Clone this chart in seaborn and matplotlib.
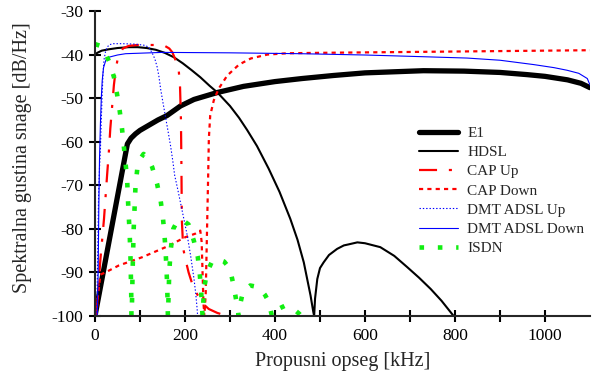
import numpy as np
import pandas as pd
import matplotlib
matplotlib.use("Agg")
import matplotlib.pyplot as plt
import seaborn as sns

# ---- data (kHz, dB/Hz) ----
e1_khz = [0, 72, 80, 90, 100, 120, 140, 160, 190, 220, 272, 330, 400, 460,
          530, 600, 730, 820, 900, 960, 1000, 1050, 1080, 1100]
e1_db = [-100, -60.5, -59.2, -58.2, -57.4, -56.2, -55.0, -54.0, -51.8, -50.3,
         -48.7, -47.3, -46.2, -45.5, -44.8, -44.2, -43.7, -43.8, -44.1, -44.6,
         -45.0, -45.8, -46.6, -47.6]

hdsl_khz = [0, 5, 15, 30, 50, 75, 95, 115, 135, 155, 175, 195, 215, 234, 255,
            272, 300, 320, 338, 360, 386, 410, 434, 450, 464, 479, 485, 487,
            489, 494, 500, 508, 520, 538, 553, 562, 583, 600, 634, 665, 694,
            720, 746, 770, 797]
hdsl_db = [-40.0, -39.6, -39.1, -38.8, -38.5, -38.3, -38.3, -38.5, -38.9, -39.6,
           -40.6, -42.0, -43.6, -45.2, -47.2, -48.7, -51.8, -54.5, -57.3, -61.0,
           -66.2, -71.5, -77.7, -82.5, -87.7, -95.3, -99.0, -100, -96.0, -91.5,
           -89.0, -87.7, -86.0, -84.6, -83.8, -83.6, -83.1, -83.3, -84.2, -86.2,
           -88.8, -91.2, -93.8, -96.5, -100]

cap_up_khz = [1, 3, 5, 12, 20, 27, 31, 34, 38, 42, 46, 50, 55, 62, 75, 94, 138,
              155, 165, 172, 180, 186, 189, 191, 192, 193, 196, 201, 208, 216,
              227, 240, 253, 272, 294]
cap_up_db = [-100, -99, -97, -87, -77.7, -67.5, -62, -57, -52, -47, -43.5,
             -41.2, -39.8, -38.6, -38.0, -37.8, -37.8, -38.0, -38.6, -39.5,
             -41.5, -43.5, -47.5, -55, -65, -78, -84.5, -87, -90, -92.6, -95,
             -97.2, -98.4, -99.3, -100]

cap_down_khz = [3, 6, 12, 23, 53, 105, 157, 201, 223, 234, 237, 239, 241, 243,
                246, 248, 250, 251.5, 253, 256, 264, 275, 294, 320, 346, 383,
                427, 500, 600, 700, 800, 900, 1000, 1100]
cap_down_db = [-100, -96, -90.5, -90, -88.4, -86.5, -84.2, -81.9, -81.1, -80.4,
               -83, -90, -97, -100, -95, -85, -75, -67.7, -59.3, -54, -50.5,
               -47.8, -44.8, -42.3, -40.9, -40.0, -39.7, -39.6, -39.5, -39.4,
               -39.3, -39.2, -39.1, -39.0]

dmt_up_khz = [4, 6, 8, 10, 12, 14, 16, 18, 20, 24, 30, 38, 60, 90, 112, 120,
              127, 133, 138, 142, 146, 151, 157, 163, 168, 173, 177, 184, 190,
              198, 205, 213, 220, 224, 227, 228]
dmt_up_db = [-100, -85, -72, -66, -62, -55, -49, -44, -41.2, -39, -37.9, -37.5,
             -37.5, -37.6, -37.9, -38.4, -39.6, -41, -42.8, -45, -48, -51,
             -54.5, -58, -61, -64.5, -67.7, -71, -74, -78, -81.5, -86.5, -91.5,
             -95, -98.4, -100]

dmt_down_khz = [5, 7, 8.5, 10, 12, 14, 16, 19, 24, 31, 50, 68, 150, 300, 457,
                600, 700, 827, 900, 975, 1020, 1049, 1075, 1094, 1100]
dmt_down_db = [-100, -90, -75, -64, -56, -50, -46, -43, -41.3, -40.6, -40.1,
               -39.8, -39.5, -39.6, -39.8, -40.1, -40.4, -40.8, -41.3, -42.3,
               -43.0, -43.6, -44.3, -45.5, -47.0]

isdn_khz = [0, 12, 22, 31, 42, 49, 55, 60, 64, 68, 71.5, 74, 77, 79, 80.5, 81,
            82, 83.5, 86, 90, 94, 100, 108, 118, 127, 138, 146, 151, 154.5, 157,
            159, 160.5, 161.5, 162, 163, 165, 168, 174, 183, 195, 208, 219.6,
            228.5, 233, 236, 238, 239, 240, 242, 249, 260, 271.5, 287, 300, 308,
            314, 318, 319, 321, 329, 345, 364, 378, 386, 392, 394, 400, 405,
            423, 440, 454, 458]
isdn_db = [-37.6, -38, -39.5, -41.5, -45.1, -49.1, -53, -57, -61, -65, -69, -75,
           -81, -87, -95, -100, -98, -90, -80, -70.2, -66.2, -64, -62.8, -63.8,
           -65.8, -69.7, -73.6, -77.5, -81.5, -85.4, -89.4, -93.4, -97.6, -100,
           -97, -90, -85, -80, -78.2, -78, -79, -82.7, -86.5, -90.6, -94.6,
           -98.2, -100, -98.5, -93.8, -90, -87.5, -86.9, -87.5, -89.2, -93,
           -96.5, -99, -100, -98, -94.4, -93, -93.4, -95.2, -96.7, -99.5, -100,
           -100, -98.5, -97.6, -98.3, -99.5, -100]

x_ticks = [0, 100, 200, 300, 400, 500, 600, 700, 800, 900, 1000]
x_tick_labels = ["0", "", "200", "", "400", "", "600", "", "800", "", "1000"]
y_ticks = [-100, -90, -80, -70, -60, -50, -40, -30]

sns.set_style("ticks")
plt.rcParams['font.family'] = ['Liberation Serif', 'DejaVu Serif']
plt.rcParams['lines.scale_dashes'] = False
plt.rcParams['axes.unicode_minus'] = False

fig = plt.figure(figsize=(5.97, 3.77), dpi=100)
ax = fig.add_axes([95 / 597, 61 / 377, 495 / 597, 305 / 377])

series = [
    ("E1", e1_khz, e1_db, dict(color="black", lw=3.8, linestyle="-")),
    ("HDSL", hdsl_khz, hdsl_db, dict(color="black", lw=1.5, linestyle="-")),
    ("CAP Up", cap_up_khz, cap_up_db,
     dict(color="#ff0000", lw=1.6, linestyle=(0, (13, 8.5, 2.2, 8.5)))),
    ("CAP Down", cap_down_khz, cap_down_db,
     dict(color="#ff0000", lw=1.6, linestyle=(0, (3.0, 3.0)))),
    ("DMT ADSL Up", dmt_up_khz, dmt_up_db,
     dict(color="#0000ff", lw=0.8, linestyle=(0, (1.0, 1.4)))),
    ("DMT ADSL Down", dmt_down_khz, dmt_down_db,
     dict(color="#0000ff", lw=0.8, linestyle="-")),
    ("ISDN", isdn_khz, isdn_db,
     dict(color="#11ee11", lw=3.3, linestyle=(0, (3.3, 9.9)))),
]

for name, xs, ys, style in series:
    sns.lineplot(x=xs, y=ys, ax=ax, sort=False, estimator=None, label=name,
                 **style)

ax.set_xlim(0, 1100)
ax.set_ylim(-100, -30)
ax.set_xticks(x_ticks)
ax.set_xticklabels(x_tick_labels)
ax.set_yticks(y_ticks)
sns.despine(ax=ax)
for s in ["left", "bottom"]:
    ax.spines[s].set_linewidth(1.5)
ax.tick_params(direction="inout", length=9, width=1.5, labelsize=12.5,
               pad=4, colors="black")

ax.set_xlabel("Propusni opseg [kHz]", fontsize=14.5, labelpad=6)
ax.set_ylabel("Spektralna gustina snage [dB/Hz]", fontsize=14.5)
ax.yaxis.set_label_coords(-0.127, 0.52)

ax.legend(loc="upper left", bbox_to_anchor=(0.655, 0.622), frameon=False,
          fontsize=11, handlelength=2.55, handletextpad=0.6,
          labelspacing=0.36, borderpad=0, borderaxespad=0)

plt.savefig("out.png", dpi=100)
